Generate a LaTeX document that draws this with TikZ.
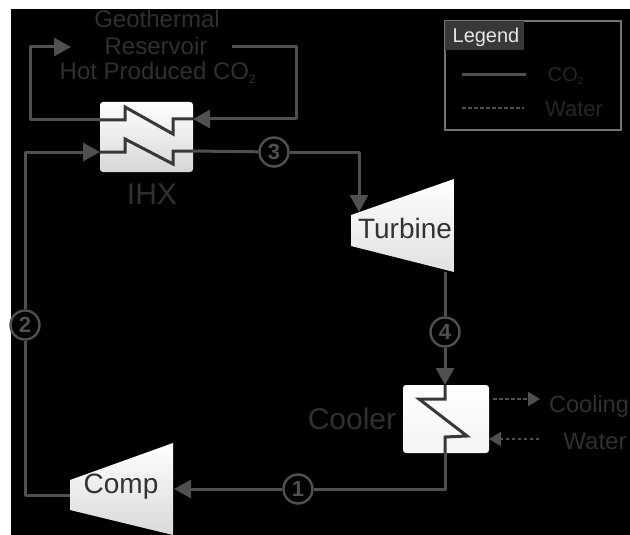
\documentclass[tikz,border=0pt]{standalone}
\usepackage{fontspec}
\setmainfont{Liberation Sans}
\usetikzlibrary{arrows.meta}
\definecolor{ln}{HTML}{505050}
\definecolor{tx}{HTML}{303030}
\definecolor{boxfill}{HTML}{F4F4F4}
\tikzset{
  x=1pt,y=-1pt,
  pipe/.style={draw=ln,line width=3pt,line join=round},
  flow/.style={pipe,-{Triangle[length=17pt,width=18pt,color=ln]}},
  water/.style={draw=ln,line width=1.8pt,dash pattern=on 3.5pt off 2.5pt},
  waterflow/.style={water,-{Triangle[length=12pt,width=14pt,color=ln,sep=0pt]}},
  zig/.style={draw=black!78,line width=3pt,line join=miter},
  hx/.style={rounded corners=3pt,top color=white,bottom color=boxfill!88!black},
  state/.style={circle,draw=ln,line width=2.4pt,minimum size=29pt,inner sep=0pt,fill=black,text=ln,font=\bfseries\fontsize{22}{22}\selectfont},
  lbl/.style={text=tx,font=\fontsize{24}{26}\selectfont,inner sep=0pt},
  eqlbl/.style={text=black!80,font=\fontsize{28}{30}\selectfont,inner sep=0pt},
}
\begin{document}
\begin{tikzpicture}
\useasboundingbox (0,0) rectangle (630,535);
\fill[white] (0,0) rectangle (630,535);
\fill[black] (11,9) rectangle (630,535);
% equipment
\shade[hx] (100,102) rectangle (193,172);
\shade[hx,top color=white,bottom color=boxfill] (403,385) rectangle (489,453);
\shade[top color=white,bottom color=black!12] (351,215) -- (454,179) -- (454,272) -- (351,246) -- cycle;
\shade[top color=white,bottom color=black!15] (70,480) -- (173,443) -- (173,535) -- (70,510) -- cycle;
\node[eqlbl] (turbine) at (405,228) {Turbine};
\node[eqlbl] (comp) at (121,487) {Comp};
\node[inner sep=0pt,minimum width=93pt,minimum height=70pt] (ihx) at (146.5,137) {};
\node[inner sep=0pt,minimum width=86pt,minimum height=68pt] (cooler) at (446,419) {};
\node[inner sep=0pt,minimum width=176pt,minimum height=109pt,draw=ln!80,line width=2pt] (legend) at (533,75.5) {};
% state points
\node[state] (s1) at (298,489) {1};
\node[state] (s2) at (25,325) {2};
\node[state] (s3) at (274,152) {3};
\node[state] (s4) at (445,332) {4};
% named ends
\coordinate (hotA) at (100,120);
\coordinate (hotB) at (193,119);
\coordinate (coldA) at (100,152);
\coordinate (coldB) at (193,151);
\coordinate (resIn) at (71,47);
\coordinate (resOut) at (232,47);
\coordinate (turbIn) at (359,212);
\coordinate (turbOut) at (445,272);
\coordinate (coolIn) at (445,385);
\coordinate (coolOut) at (445,453);
\coordinate (compIn) at (174,489);
\coordinate (compOut) at (70,495);
\coordinate (wOutA) at (493,399);
\coordinate (wOutB) at (540,399);
\coordinate (wInA) at (539,439);
\coordinate (wInB) at (489,439);
% exchanger zigzags
\draw[zig] (hotA) -- (125,120) -- (125,107) -- (173,134) -- (173,119) -- (hotB);
\draw[zig] (coldA) -- (125,152) -- (125,139) -- (173,164) -- (173,151) -- (coldB);
\draw[zig] (coolIn) -- (445,399) -- (419,399) -- (467,436) -- (445,437) -- (coolOut);
% connectors
\draw[flow] (hotA) -- (30,120) -- (30,47) -- (resIn);
\draw[flow] (resOut) -- (296,47) -- (296,119) -- (hotB);
\draw[pipe] (compOut) -- (25,495) -- (s2);
\draw[flow] (s2) -- (25,152) -- (coldA);
\draw[pipe] (coldB) -- (s3);
\draw[flow] (s3) -- (359,152) -- (turbIn);
\draw[pipe] (turbOut) -- (s4);
\draw[flow] (s4) -- (coolIn);
\draw[pipe] (coolOut) -- (445,489) -- (s1);
\draw[flow] (s1) -- (compIn);
\draw[waterflow] (wOutA) -- (wOutB);
\draw[waterflow] (wInA) -- (wInB);
% labels
\node[lbl] (geo) at (157,19) {Geothermal};
\node[lbl] (res) at (156,46) {Reservoir};
\node[lbl] (hot) at (158,73) {Hot Produced CO\textsubscript{\fontsize{12}{12}\selectfont 2}};
\node[lbl,font=\fontsize{30}{32}\selectfont] (ihxl) at (152,194) {IHX};
\node[lbl,font=\fontsize{30}{32}\selectfont] (coolerl) at (352,419) {Cooler};
\node[lbl,font=\fontsize{23.5}{26}\selectfont,anchor=west] (cw1) at (549,406) {Cooling};
\node[lbl,font=\fontsize{24}{26}\selectfont] (cw2) at (595,441) {Water};
% legend
\fill[black!78] (445,21) rectangle (524,50);
\node[text=white!90!black,font=\fontsize{20}{22}\selectfont,inner sep=0pt] (legt) at (486,37) {Legend};
\coordinate (l1a) at (462,75);
\coordinate (l1b) at (526,75);
\coordinate (l2a) at (462,108);
\coordinate (l2b) at (524,108);
\draw[pipe] (l1a) -- (l1b);
\draw[water] (l2a) -- (l2b);
\node[text=black!85,font=\fontsize{20}{22}\selectfont,inner sep=0pt] (lco) at (566,76) {CO\textsubscript{\fontsize{10}{10}\selectfont 2}};
\node[text=black!85,font=\fontsize{22}{24}\selectfont,inner sep=0pt] (lw) at (574,109) {Water};
\end{tikzpicture}
\end{document}
